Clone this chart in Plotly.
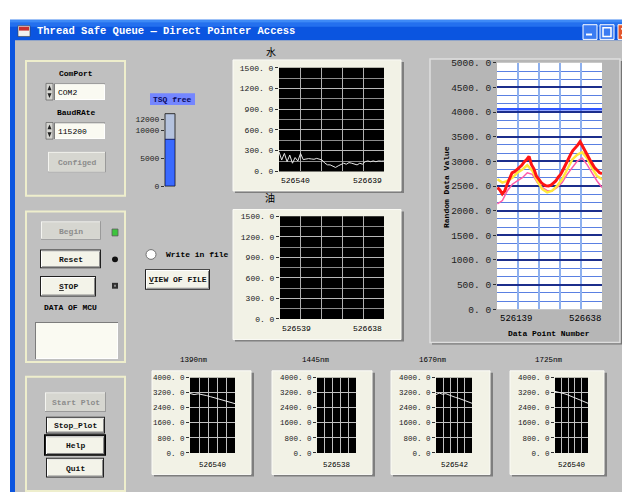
import numpy as np
import plotly.graph_objects as go

W, H = 630, 492
MONO = "Liberation Mono"

# ---------------- data ----------------
window_title = "Thread Safe Queue — Direct Pointer Access"
com_port = "COM2"
baud_rate = "115200"
tank_label = "TSQ free"
tank_value = [8400]
tank_ticks = [0, 5000, 10000, 12000]

upper_titles = ["水", "油"]
upper_x_labels = [["526540", "526639"], ["526539", "526638"]]
upper_x_ranges = [[526540, 526639], [526539, 526638]]
upper_yticks = [0, 300, 600, 900, 1200, 1500]
water_values = [283, 165, 260, 140, 236, 118, 200, 150, 260, 170, 178, 185, 180, 175,
                188, 180, 165, 120, 95, 94, 75, 57, 80, 94, 118, 104, 127, 118, 104, 94,
                118, 104, 140, 151, 140, 151, 140, 151, 148, 150]
oil_values = []

right_x_range = [526139, 526638]
right_x_labels = ["526139", "526638"]
right_yticks = [0, 500, 1000, 1500, 2000, 2500, 3000, 3500, 4000, 4500, 5000]
red_values = [2471, 2420, 2340, 2400, 2537, 2650, 2769, 2790, 2835, 2880, 2921, 2990,
              3034, 3100, 2934, 2850, 2703, 2640, 2570, 2530, 2504, 2500, 2517, 2560,
              2603, 2680, 2736, 2830, 2934, 3050, 3133, 3220, 3266, 3330, 3400, 3300,
              3213, 3120, 3034, 2950, 2868, 2820, 2769, 2750]
yellow_values = [2637, 2570, 2603, 2670, 2769, 2835, 2921, 2815, 2603, 2438, 2372, 2405,
                 2504, 2637, 2835, 3034, 3133, 3186, 3067, 2868, 2703, 2637]
pink_values = [2140, 2206, 2405, 2537, 2603, 2670, 2769, 2736, 2570, 2471, 2405, 2405,
               2471, 2570, 2736, 2868, 3001, 3067, 2934, 2769, 2603, 2471]
cursor_level = [4060]

small_titles = ["1390nm", "1445nm", "1670nm", "1725nm"]
small_x_labels = ["526540", "526538", "526542", "526540"]
small_yticks = [0, 800, 1600, 2400, 3200, 4000]
small_values = [
    [3160, 3100, 3140, 3110, 3050, 2990, 2930, 2870, 2800, 2740, 2690, 2620],
    [],
    [3100, 3180, 3120, 3150, 3080, 3000, 2950, 2900, 2830, 2760, 2700, 2640],
    [3270, 3240, 3200, 3150, 3100, 3030, 2980, 2900, 2850, 2780, 2700, 2640],
]

# ---------------- helpers ----------------
shapes, annotations = [], []


def fx(x):
    return x / W


def fy(y):
    return 1 - y / H


def rect(x0, y0, x1, y1, fill, line=None, lw=0):
    shapes.append(dict(type="rect", xref="paper", yref="paper",
                       x0=fx(x0), x1=fx(x1), y0=fy(y1), y1=fy(y0),
                       fillcolor=fill, layer="below",
                       line=dict(color=line if line else "rgba(0,0,0,0)", width=lw)))


def circle(x0, y0, x1, y1, fill, line=None, lw=0):
    shapes.append(dict(type="circle", xref="paper", yref="paper",
                       x0=fx(x0), x1=fx(x1), y0=fy(y1), y1=fy(y0),
                       fillcolor=fill, layer="below",
                       line=dict(color=line if line else "rgba(0,0,0,0)", width=lw)))


def path(pts, fill, line=None, lw=0, layer="below"):
    d = "M " + " L ".join("%f,%f" % (fx(a), fy(b)) for a, b in pts) + " Z"
    shapes.append(dict(type="path", xref="paper", yref="paper", path=d,
                       fillcolor=fill, layer=layer,
                       line=dict(color=line if line else "rgba(0,0,0,0)", width=lw)))


def seg(x0, y0, x1, y1, color, lw=1, layer="below"):
    shapes.append(dict(type="line", xref="paper", yref="paper",
                       x0=fx(x0), x1=fx(x1), y0=fy(y0), y1=fy(y1), layer=layer,
                       line=dict(color=color, width=lw)))


def text(x, y, s, size=8, color="#000000", bold=False, xanchor="center",
         family=MONO, angle=0):
    annotations.append(dict(x=fx(x), y=fy(y), xref="paper", yref="paper",
                            text=("<b>%s</b>" % s) if bold else s, showarrow=False,
                            font=dict(size=size, color=color, family=family),
                            xanchor=xanchor, yanchor="middle", textangle=angle,
                            borderpad=0))


def button(x0, y0, x1, y1, label, disabled=False, focus=False):
    if disabled:
        rect(x0, y0, x1, y1, "#9a9a9a")
        rect(x0, y0, x1 - 1, y1 - 1, "#f4f4f0")
        rect(x0 + 1, y0 + 1, x1 - 1, y1 - 1, "#d6d6d0")
        text((x0 + x1) / 2, (y0 + y1) / 2 + 0.5, label, color="#8c8c8c", bold=True)
    else:
        if focus:
            rect(x0 - 1, y0 - 1, x1 + 1, y1 + 1, "#000000")
        rect(x0, y0, x1, y1, "#202020")
        rect(x0 + 1, y0 + 1, x1 - 1, y1 - 1, "#ffffff")
        rect(x0 + 2, y0 + 2, x1 - 1, y1 - 1, "#8a8a8a")
        rect(x0 + 2, y0 + 2, x1 - 2, y1 - 2, "#f3f3e9")
        text((x0 + x1) / 2, (y0 + y1) / 2 + 0.5, label, color="#101010", bold=True)


def textbox(x0, y0, x1, y1, s=""):
    rect(x0, y0, x1, y1, "#7c7c7c")
    rect(x0 + 1, y0 + 1, x1, y1, "#ffffff")
    rect(x0 + 1, y0 + 1, x1 - 1, y1 - 1, "#fafaf2")
    if s:
        text(x0 + 3, (y0 + y1) / 2 + 0.5, s, xanchor="left")


def spin(x0, y0, x1, y1):
    rect(x0, y0, x1, y1, "#d4d4d0", "#6a6a6a", 0.8)
    m = (y0 + y1) / 2
    cx = (x0 + x1) / 2
    path([(x0 + 1.5, m - 1.5), (x1 - 1.5, m - 1.5), (cx, y0 + 2)], "#202020")
    path([(x0 + 1.5, m + 1.5), (x1 - 1.5, m + 1.5), (cx, y1 - 2)], "#202020")


def frame(x0, y0, x1, y1):
    rect(x0 + 2, y0 + 2, x1 + 3, y1 + 2, "#7e7e7e")
    rect(x0, y0, x1, y1, "#f2f2e6", "#fbfbf6", 1)


# ---------------- window chrome ----------------
rect(2, 7, 630, 492, "#0b55e0")
rect(2, 7, 630, 10, "#3e8af6")
rect(2, 10, 630, 14, "#2470ee")
rect(7, 28, 626, 492, "#c0c0c0")
# icon
rect(10, 13, 22, 24, "#f0f0f0", "#404040", 0.6)
rect(11, 14, 21, 18, "#c83030")
text(28, 18.5, window_title, size=10.5, color="#ffffff", bold=True, xanchor="left")
# title buttons
rect(575, 12, 589, 27, "#3b7cf2", "#ffffff", 1)
rect(578, 21, 584, 23, "#ffffff")
rect(592, 12, 606, 27, "#3b7cf2", "#ffffff", 1)
rect(595, 15, 603, 24, "rgba(0,0,0,0)", "#ffffff", 1.5)
rect(610, 12, 624, 27, "#e2552c", "#ffffff", 1)
seg(613.5, 15.5, 620.5, 23.5, "#ffffff", 2)
seg(620.5, 15.5, 613.5, 23.5, "#ffffff", 2)

# ---------------- panels ----------------
for (a, b, c, d) in [(18, 49, 117, 187), (18, 203, 117, 357), (18, 372, 117, 489)]:
    rect(a, b, c, d, "rgba(0,0,0,0)", "#eeeecc", 2)

# panel 1
text(68, 62, "ComPort", bold=True)
spin(38, 72, 45, 89)
textbox(46, 72, 97, 89, com_port)
text(68, 102, "BaudRAte", bold=True)
spin(38, 112, 45, 129)
textbox(46, 112, 97, 129, baud_rate)
button(40, 142, 98, 163, "Configed", disabled=True)

# tank label
rect(142, 82, 187, 94, "#7486ff")
text(164.5, 88, tank_label, size=8, color="#0a0a60", bold=True)

# panel 2
button(33, 213, 93, 232, "Begin", disabled=True)
rect(104, 221, 110, 228, "#3cc43c", "#5a5a5a", 0.8)
button(32, 242, 93, 261, "Reset")
circle(104, 249, 110, 255, "#101010")
button(32, 269, 88, 290, "<u>S</u>TOP")
rect(104, 276, 110, 282, "#303030")
rect(106, 278, 108, 280, "#8a8a8a")
text(62, 301, "DATA OF MCU", bold=True)
textbox(27, 316, 110, 354)

# write in file / view of file
circle(138, 242, 148, 252, "#ffffff", "#707070", 1)
text(157, 247, "Write in file", bold=True, xanchor="left")
button(137, 262, 202, 283, "<u>V</u>IEW OF FILE")

# panel 3
button(37, 388, 98, 408, "Start Plot", disabled=True)
button(38, 413, 97, 430, "Stop_Plot")
button(37, 432, 97, 452, "Help", focus=True)
button(38, 455, 96, 475, "Quit")

# chart frames
frame(225, 48, 393, 182)
frame(225, 201, 393, 334)
rect(424, 49, 615, 339, "#747474")
rect(422, 47, 612, 337, "#b6b6b6", "#dedede", 1.5)
small_frames = [(144, 366, 243, 472), (264, 366, 364, 472), (383, 366, 482, 472), (502, 366, 596, 472)]
for fr in small_frames:
    frame(*fr)

# titles
text(263, 39, upper_titles[0], size=10, family="Noto Sans CJK SC")
text(262, 189, upper_titles[1], size=10, family="Noto Sans CJK SC")

# ---------------- axes ----------------
layout_axes = {}


def add_axes(k, xpx, ypx, xr, yr, xgrid, yvals, ytext, xgc, xgw, ygc, ygw, fsize, minor=None):
    xn = "xaxis" if k == 1 else "xaxis%d" % k
    yn = "yaxis" if k == 1 else "yaxis%d" % k
    xa = "x" if k == 1 else "x%d" % k
    ya = "y" if k == 1 else "y%d" % k
    layout_axes[xn] = dict(domain=[fx(xpx[0]), fx(xpx[1])], range=xr, anchor=ya,
                           tickmode="array", tickvals=xgrid, showticklabels=False, ticks="",
                           showgrid=xgrid is not None and len(xgrid) > 0,
                           gridcolor=xgc, gridwidth=xgw,
                           zeroline=False, showline=False, fixedrange=True)
    layout_axes[yn] = dict(domain=[fy(ypx[1]), fy(ypx[0])], range=yr, anchor=xa,
                           tickmode="array", tickvals=yvals, ticktext=ytext,
                           ticks="outside", ticklen=3, tickwidth=1, tickcolor="#303030",
                           tickfont=dict(family=MONO, size=fsize, color="#202020"),
                           showgrid=True, gridcolor=ygc, gridwidth=ygw,
                           zeroline=False, showline=False, fixedrange=True)
    if minor:
        layout_axes[yn]["minor"] = minor
    return xa, ya


def bg(xa, ya, color, line=None):
    shapes.append(dict(type="rect", xref=xa + " domain", yref=ya + " domain",
                       x0=0, x1=1, y0=0, y1=1, fillcolor=color, layer="below",
                       line=dict(color=line if line else "rgba(0,0,0,0)", width=1 if line else 0)))


fig = go.Figure()

# upper two black charts
upper_boxes = [((271, 376), (56, 162)), ((272, 376), (208, 313))]
upper_series = [water_values, oil_values]
for i in range(2):
    k = i + 1
    xr = upper_x_ranges[i]
    xgrid = list(np.linspace(xr[0], xr[1], 6)[1:-1])
    xa, ya = add_axes(k, upper_boxes[i][0], upper_boxes[i][1], xr, [0, 1500], xgrid,
                      upper_yticks, ["%d. 0" % v for v in upper_yticks],
                      "#b0b0b0", 1, "#b8b8b8", 1, 8,
                      minor=dict(tickmode="linear", tick0=0, dtick=150, showgrid=True,
                                 gridcolor="#8c8c8c", gridwidth=1, ticks=""))
    bg(xa, ya, "#000000")
    vals = upper_series[i]
    fig.add_trace(go.Scatter(x=np.linspace(xr[0], xr[1], len(vals)), y=vals, xaxis=xa, yaxis=ya,
                             mode="lines", line=dict(color="#e6e6e6", width=1), hoverinfo="skip"))
    x0p, x1p = upper_boxes[i][0]
    ylab = 171 if i == 0 else 323
    text(x0p + 1, ylab, upper_x_labels[i][0], size=8, xanchor="left")
    text(x1p - 1, ylab, upper_x_labels[i][1], size=8, xanchor="right")

# right white chart
xr = right_x_range
xgrid = list(np.linspace(xr[0], xr[1], 6))
xa, ya = add_axes(3, (489, 594), (51, 303), xr, [0, 5000], xgrid, right_yticks,
                  ["%d. 0" % v for v in right_yticks], "#8eb0ee", 2, "#1c2e8c", 1.5, 9.5,
                  minor=dict(tickmode="linear", tick0=0, dtick=500 / 3, showgrid=True,
                             gridcolor="#5a80e2", gridwidth=1, ticks=""))
bg(xa, ya, "#ffffff")
shapes.append(dict(type="line", xref="x3 domain", yref="y3", x0=0, x1=1,
                   y0=cursor_level[0], y1=cursor_level[0], layer="above",
                   line=dict(color="#2f55ff", width=2.5)))
for vals, col, w in [(pink_values, "#ff5aa8", 1.5), (yellow_values, "#ffe83c", 2.5),
                     (red_values, "#ff1414", 3)]:
    fig.add_trace(go.Scatter(x=np.linspace(xr[0] + 2, xr[1], len(vals)), y=vals,
                             xaxis=xa, yaxis=ya, mode="lines",
                             line=dict(color=col, width=w), hoverinfo="skip"))
text(491, 313, right_x_labels[0], size=9, xanchor="left")
text(594, 313, right_x_labels[1], size=9, xanchor="right")
text(541, 328, "Data Point Number", size=8, bold=True)
text(438, 178, "Random Data Value", size=8, bold=True, angle=-90)

# tank
xa, ya = add_axes(4, (157, 167), (103, 177), [-0.5, 0.5], [0, 13000], [], tank_ticks,
                  [str(v) for v in tank_ticks], "#000000", 1, "rgba(0,0,0,0)", 1, 8)
layout_axes["yaxis4"]["showgrid"] = False
bg(xa, ya, "#b4c2de", "#303030")
fig.add_trace(go.Bar(x=[0], y=tank_value, width=[1], xaxis=xa, yaxis=ya,
                     marker=dict(color="#3a6aff", line=dict(color="#14206a", width=1)),
                     hoverinfo="skip"))

# small charts
small_boxes = [(182, 227), (309, 348), (428, 464), (547, 580)]
title_x = [186, 308, 425, 541]
for i in range(4):
    k = 5 + i
    n = 12
    xr = [0, n - 1]
    xgrid = list(np.linspace(0, n - 1, 6)[1:-1])
    xa, ya = add_axes(k, small_boxes[i], (373, 450), xr, [0, 4000], xgrid, small_yticks,
                      ["%d. 0" % v for v in small_yticks], "#c0c0c0", 1, "#c0c0c0", 1, 7.5)
    bg(xa, ya, "#000000")
    vals = small_values[i]
    fig.add_trace(go.Scatter(x=list(range(len(vals))), y=vals, xaxis=xa, yaxis=ya,
                             mode="lines", line=dict(color="#e8e8e8", width=1), hoverinfo="skip"))
    text(title_x[i], 355, small_titles[i], size=7.5)
    text((small_boxes[i][0] + small_boxes[i][1]) / 2, 462, small_x_labels[i], size=7.5)

fig.update_layout(
    width=W, height=H, autosize=False,
    margin=dict(l=0, r=0, t=0, b=0, pad=0),
    paper_bgcolor="#ffffff", plot_bgcolor="rgba(0,0,0,0)",
    showlegend=False, hovermode=False,
    shapes=shapes, annotations=annotations,
    **layout_axes,
)

fig.write_html("out.html")
